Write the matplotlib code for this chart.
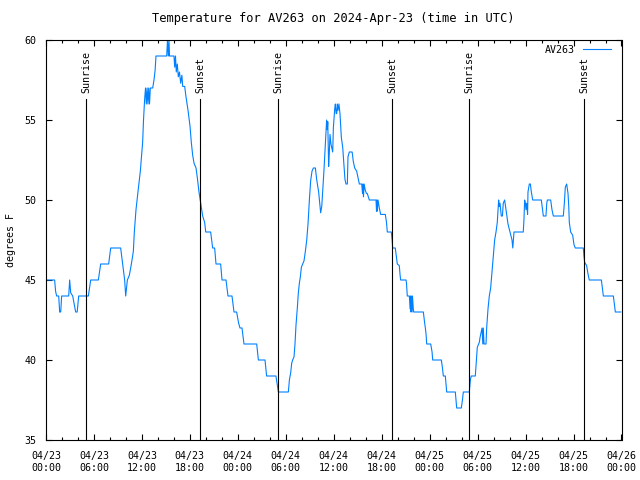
import datetime as dt
import matplotlib
matplotlib.use("Agg")
import matplotlib.pyplot as plt
import matplotlib.dates as mdates

# observations: hours since 2024-04-23 00:00 UTC, temperature in degrees F
obs_hours = [
    0.0, 1.08, 1.2, 1.33, 1.59, 1.71, 1.84, 1.96, 2.84, 2.96, 3.09, 3.34, 3.71, 3.9, 4.09,
    5.30, 5.59, 6.55, 6.84, 7.84, 8.09, 9.34, 9.59, 9.84, 9.97, 10.18, 10.43, 10.68, 10.93,
    11.05, 11.26, 11.40, 11.55, 11.80, 12.09, 12.20, 12.34, 12.45, 12.55, 12.65, 12.75, 12.85,
    12.95, 13.05, 13.35, 13.51, 13.65, 13.76, 15.10, 15.20, 15.30, 15.39, 15.45, 16.01, 16.10,
    16.20, 16.30, 16.43, 16.55, 16.70, 16.85, 17.00, 17.10, 17.35, 17.50, 17.77, 18.02, 18.18,
    18.35, 18.52, 18.77, 18.93, 19.14, 19.35, 19.60, 19.85, 19.98, 20.60, 20.85, 21.10, 21.27,
    21.85, 22.02, 22.52, 22.77, 23.27, 23.52, 23.85, 24.10, 24.27, 24.52, 24.77, 26.36, 26.57,
    27.40, 27.60, 28.77, 29.07, 30.32,
    30.45, 30.61, 30.74, 30.86, 31.03, 31.15, 31.28, 31.45, 31.57, 31.70, 31.82, 31.95, 32.12,
    32.28, 32.45, 32.62, 32.78, 32.95, 33.11, 33.28, 33.45, 33.70, 33.86, 34.11, 34.25, 34.36,
    34.50, 34.61, 34.78, 34.95, 35.05, 35.11, 35.20, 35.25, 35.36, 35.45, 35.53, 35.65, 35.87,
    35.95, 36.12, 36.20, 36.30, 36.37, 36.45, 36.53, 36.65, 36.78, 36.90, 36.95, 37.12, 37.20,
    37.28, 37.40, 37.53, 37.70, 37.78, 37.95, 38.30, 38.45, 38.62, 38.87, 39.03, 39.20, 39.50,
    39.60, 39.65, 39.72, 39.80, 39.95, 40.10, 40.20, 40.45, 41.29, 41.35, 41.40, 41.45, 41.54,
    41.70, 41.87, 42.45, 42.60, 42.70, 43.20, 43.30, 43.37, 43.70, 43.85, 43.95, 44.20, 44.30,
    44.37, 44.87,
    45.04, 45.10, 45.20, 45.46, 45.55, 45.60, 45.65, 45.71, 45.80, 45.85, 45.95, 46.00, 47.21,
    47.35, 47.46, 47.55, 47.63, 48.13, 48.30, 48.38, 49.46, 49.60, 49.71, 49.96, 50.05, 50.13,
    51.21, 51.30, 51.38, 51.96, 52.10, 52.21, 52.96, 53.10, 53.21, 53.71, 53.85, 53.96, 54.21,
    54.30, 54.46, 54.55, 54.65, 54.71, 54.80, 55.05, 55.13, 55.30, 55.46, 55.63, 55.80, 55.96,
    56.13, 56.30, 56.46, 56.63, 56.70, 56.80, 56.96, 57.10, 57.21, 57.38, 57.55, 57.80, 58.05,
    58.30, 58.40, 58.55, 58.80, 59.71, 59.80, 59.88, 59.97, 60.05, 60.14, 60.25, 60.30, 60.47,
    60.60, 60.72, 60.89, 61.97, 62.10, 62.22, 62.55, 62.65, 62.72, 63.14, 63.30, 63.47, 64.72,
    64.85, 64.97, 65.14, 65.31, 65.40, 65.47, 65.64, 65.89, 66.06, 66.22, 67.22, 67.30, 67.39,
    67.64, 67.80, 67.97, 69.48, 69.60, 69.73, 70.98, 71.10, 71.23, 71.90,
]
obs_temp = [
    45, 45, 44.3, 44, 44, 43, 43, 44, 44, 45, 44.2, 44, 43, 43, 44,
    44, 45, 45, 46, 46, 47, 47, 46, 45, 44, 45, 45.3, 46, 46.8,
    48, 49.4, 50, 50.7, 51.8, 53.6, 55, 56.3, 57, 56, 57, 56, 57,
    56, 57, 57, 57.5, 58.1, 59, 59, 60, 59, 60, 59, 59, 58.3,
    59, 58, 58.5, 57.7, 58, 57.3, 57.8, 57.1, 57.1, 56.5, 55.6, 54.6, 53.6,
    52.8, 52.3, 52, 51.4, 50.5, 49.8, 49, 48.6, 48, 48, 47, 47, 46,
    46, 45, 45, 44, 44, 43, 43, 42.3, 42, 42, 41, 41, 40,
    40, 39, 39, 38, 38,
    38.75, 39.2, 39.8, 40, 40.2, 41, 42.2, 43.3, 44.2, 44.8, 45.2, 45.8, 46,
    46.2, 46.8, 47.5, 48.5, 50, 51.2, 51.8, 52, 52, 51.3, 50.5, 49.8, 49.2,
    49.6, 50.5, 51.9, 53.5, 54.5, 55, 54.4, 54.9, 52.1, 53, 54.1, 53.5, 53,
    54.5, 55.7, 56, 55.4, 55.4, 56, 55.6, 56, 55.4, 54.4, 53.9, 53.3, 52.7,
    52.1, 51.3, 51, 51, 52.7, 53, 53, 52.4, 52, 51.8, 51.4, 51, 51,
    50.4, 51, 50.2, 51, 50.6, 50.4, 50.4, 50, 50, 49.3, 50, 49.3, 50,
    49.5, 49.1, 49.1, 48.6, 48, 48, 47.5, 47, 47, 46.4, 46, 45.9, 45.3,
    45, 45,
    45, 44.8, 44, 44, 43.2, 44, 43, 44, 43, 44, 43.2, 43, 43,
    42.4, 42, 41.6, 41, 41, 40.5, 40, 40, 39.5, 39, 39, 38.5, 38,
    38, 37.5, 37, 37, 37.5, 38, 38, 38.8, 39, 39, 40, 40.8, 41.1,
    41.4, 41.8, 42, 41, 42, 41, 41, 42, 43.2, 44, 44.5, 45.5, 46.5,
    47.5, 48, 48.6, 50, 49.6, 49.8, 49, 49, 49.8, 50, 49.4, 48.5, 48,
    47.5, 47, 48, 48, 48, 48.8, 50, 49.8, 49.4, 49.8, 49.1, 50.5, 51,
    51, 50.5, 50, 50, 49.5, 49, 49, 49.8, 50, 50, 49.4, 49, 49,
    49.8, 50.8, 51, 50.4, 49.6, 48.6, 48, 47.8, 47.2, 47, 47, 46.5, 46.1,
    45.9, 45.4, 45, 45, 44.5, 44, 44, 43.5, 43, 43,
]

sunrise_times = ["2024-04-23 05:02", "2024-04-24 05:02", "2024-04-25 04:59"]
sunset_times = ["2024-04-23 19:18", "2024-04-24 19:20", "2024-04-25 19:21"]

start = dt.datetime(2024, 4, 23)
times = [start + dt.timedelta(hours=h) for h in obs_hours]

plt.rcParams["font.family"] = "DejaVu Sans Mono"
plt.rcParams["font.size"] = 7.2

fig = plt.figure(figsize=(6.4, 4.8), dpi=100)
ax = fig.add_axes([46 / 640, 40 / 480, 575.5 / 640, 400 / 480])

ax.plot(times, obs_temp, color="#0080ff", lw=0.8, label="AV263")

for label, stamps in (("Sunrise", sunrise_times), ("Sunset", sunset_times)):
    for s in stamps:
        t = dt.datetime.strptime(s, "%Y-%m-%d %H:%M")
        ax.axvline(t, ymin=0, ymax=0.8525, color="black", lw=0.8)
        ax.text(t, 0.868, label, rotation=90, ha="center", va="bottom",
                transform=ax.get_xaxis_transform())

ax.set_xlim(start, start + dt.timedelta(days=3))
ax.set_ylim(35, 60)
ax.set_yticks([35, 40, 45, 50, 55, 60])

ax.xaxis.set_major_locator(mdates.HourLocator(byhour=[0, 6, 12, 18]))
ax.xaxis.set_minor_locator(mdates.HourLocator(interval=2))
ax.xaxis.set_major_formatter(mdates.DateFormatter("%m/%d\n%H:%M"))

ax.tick_params(which="both", direction="in", top=True, right=True, width=0.8)
ax.tick_params(which="major", length=4.5)
ax.tick_params(which="minor", length=2.5)
ax.tick_params(axis="x", pad=8)
ax.tick_params(axis="y", pad=7)
for sp in ax.spines.values():
    sp.set_linewidth(0.8)

ax.set_ylabel("degrees F")
ax.yaxis.set_label_coords(-30 / 575.5, 0.5)
ax.set_title("Temperature for AV263 on 2024-Apr-23 (time in UTC)", pad=13)

ax.legend(loc="upper right", bbox_to_anchor=((611 - 46) / 575.5, (440 - 45) / 400),
          frameon=False, markerfirst=False, handlelength=2.8,
          borderaxespad=0, borderpad=0, handletextpad=0.8)

fig.savefig("out.png", dpi=100)
